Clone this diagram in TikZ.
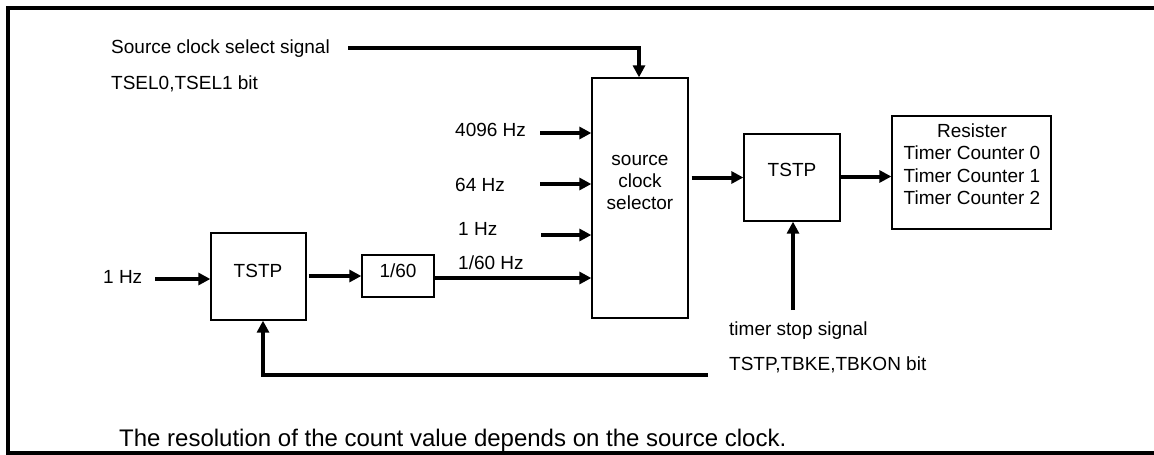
\documentclass[tikz,border=0pt]{standalone}
\usepackage{fontspec}
\setmainfont{Liberation Sans}
\usetikzlibrary{arrows.meta}
\tikzset{
  box/.style={draw, line width=1.3pt, inner sep=0pt},
  arr/.style={line width=4pt, -{Triangle[length=12pt,width=12pt]}},
  thk/.style={line width=4pt},
  lbl/.style={inner sep=0pt, font=\fontsize{19}{22}\selectfont},
  big/.style={inner sep=0pt, font=\fontsize{24}{28}\selectfont},
  frame/.style={line width=3.5pt}
}
\begin{document}
\begin{tikzpicture}[x=1pt,y=-1pt]
\useasboundingbox (0,0) rectangle (1154,455);
% frame
\draw[frame] (1154,8) -- (8,8) -- (8,455);
\draw[frame] (8,453) -- (1154,453);

% boxes
\node[box, minimum width=96pt, minimum height=240pt] (sel) at (640,198) {};
\node[box, minimum width=95pt, minimum height=87pt] (tstpa) at (258.5,276.5) {};
\node[box, minimum width=72pt, minimum height=42pt] (div) at (398,276) {};
\node[box, minimum width=96pt, minimum height=87pt] (tstpb) at (792,177.5) {};
\node[box, minimum width=159pt, minimum height=113pt] (reg) at (971.5,172.5) {};

% box texts
\node[lbl, anchor=base] (selt1) at (640,165) {source};
\node[lbl, anchor=base] (selt2) at (640,187) {clock};
\node[lbl, anchor=base] (selt3) at (640,209) {selector};
\node[lbl, anchor=base] (tstpat) at (258,277) {TSTP};
\node[lbl, anchor=base] (divt) at (398,277) {1/60};
\node[lbl, anchor=base] (tstpbt) at (792,176) {TSTP};
\node[lbl, anchor=base] (regt1) at (972,137) {Resister};
\node[lbl, anchor=base] (regt2) at (972,159.5) {Timer Counter 0};
\node[lbl, anchor=base] (regt3) at (972,182) {Timer Counter 1};
\node[lbl, anchor=base] (regt4) at (972,204) {Timer Counter 2};

% labels
\node[lbl, anchor=base west] (lsrc) at (111,53) {Source clock select signal};
\node[lbl, anchor=base west] (ltsel) at (111,89) {TSEL0,TSEL1 bit};
\node[lbl, anchor=base west] (l4096) at (455,136) {4096 Hz};
\node[lbl, anchor=base west] (l64) at (455,191) {64 Hz};
\node[lbl, anchor=base west] (l1) at (458,235) {1 Hz};
\node[lbl, anchor=base west] (l160) at (458,269) {1/60 Hz};
\node[lbl, anchor=base west] (l1in) at (103,283) {1 Hz};
\node[lbl, anchor=base west] (lstop) at (729,335) {timer stop signal};
\node[lbl, anchor=base west] (lbits) at (729,370) {TSTP,TBKE,TBKON bit};
\node[big, anchor=base west] (note) at (119,446) {The resolution of the count value depends on the source clock.};

% connector start points
\coordinate (ssel) at (348,48);
\coordinate (a1) at (540,133);
\coordinate (a2) at (540,184);
\coordinate (a3) at (541,235);
\coordinate (ain) at (155,279);
\coordinate (ts) at (793,310);
\coordinate (fb) at (708,375);

% connectors
\draw[arr] (ssel) -| ([xshift=-1pt]sel.north);
\draw[arr] (a1) -- (sel.west |- a1);
\draw[arr] (a2) -- (sel.west |- a2);
\draw[arr] (a3) -- (sel.west |- a3);
\draw[arr] ([yshift=-2pt]div.east) -- ([yshift=-2pt]sel.west |- div.east);
\draw[arr] (ain) -- (tstpa.west |- ain);
\draw[arr] ([xshift=2pt]tstpa.east |- div.west) -- (div.west);
\draw[arr] ([xshift=3pt]sel.east |- tstpb.west) -- (tstpb.west);
\draw[arr] ([yshift=1pt]tstpb.east) -- ([yshift=1pt]reg.west |- tstpb.east);
\draw[arr] (ts) -- (tstpb.south -| ts);
\draw[arr] (fb) -| ([xshift=4.5pt]tstpa.south);
\end{tikzpicture}
\end{document}
